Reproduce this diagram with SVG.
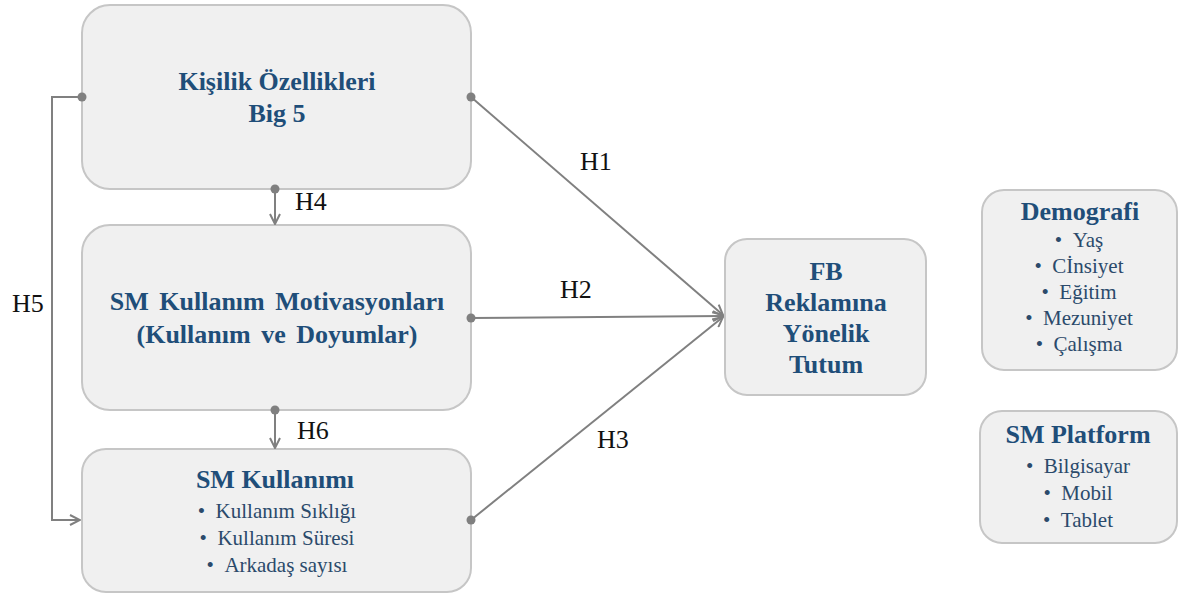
<svg xmlns="http://www.w3.org/2000/svg" width="1181" height="596" viewBox="0 0 1181 596" font-family="Liberation Serif, DejaVu Serif, serif">
<defs>
<style>
.box{fill:#f0f0f0;stroke:#c6c6c6;stroke-width:2}
.title{font-weight:bold;font-size:26px;fill:#1f4e79;text-anchor:middle}
.item{font-size:21px;fill:#2b4a6b;text-anchor:middle}
.lbl{font-size:26px;fill:#111}
.con{stroke:#808080;stroke-width:2;fill:none}
.dot{fill:#808080}
</style>
<marker id="arr" viewBox="0 0 12 12" refX="11" refY="6" markerWidth="12" markerHeight="12" markerUnits="userSpaceOnUse" orient="auto">
<path d="M1,1 L11,6 L1,11" fill="none" stroke="#808080" stroke-width="2"/>
</marker>
</defs>
<rect width="1181" height="596" fill="#ffffff"/>
<g id="node-kisilik">
<rect class="box" x="82" y="5" width="389" height="184" rx="28"/>
<text class="title" x="277" y="90">Kişilik Özellikleri</text>
<text class="title" x="277" y="122">Big 5</text>
</g>
<g id="node-motivasyon">
<rect class="box" x="82" y="225" width="389" height="185" rx="28"/>
<text class="title" x="277" y="310" word-spacing="4">SM Kullanım Motivasyonları</text>
<text class="title" x="277" y="343" word-spacing="4">(Kullanım ve Doyumlar)</text>
</g>
<g id="node-kullanim">
<rect class="box" x="82" y="449" width="389" height="143" rx="24"/>
<text class="title" x="275" y="488">SM Kullanımı</text>
<text class="item" x="277" y="518">•&#160;&#160;Kullanım Sıklığı</text>
<text class="item" x="277" y="545">•&#160;&#160;Kullanım Süresi</text>
<text class="item" x="277" y="572">•&#160;&#160;Arkadaş sayısı</text>
</g>
<g id="node-fb">
<rect class="box" x="725" y="239" width="201" height="156" rx="22"/>
<text class="title" x="826" y="280">FB</text>
<text class="title" x="826" y="311">Reklamına</text>
<text class="title" x="826" y="342">Yönelik</text>
<text class="title" x="826" y="373">Tutum</text>
</g>
<g id="node-demografi">
<rect class="box" x="982" y="190" width="195" height="180" rx="22"/>
<text class="title" x="1080" y="220" font-size="25">Demografi</text>
<text class="item" x="1079" y="247">•&#160;&#160;Yaş</text>
<text class="item" x="1079" y="273">•&#160;&#160;Cİnsiyet</text>
<text class="item" x="1079" y="299">•&#160;&#160;Eğitim</text>
<text class="item" x="1079" y="325">•&#160;&#160;Mezuniyet</text>
<text class="item" x="1079" y="351">•&#160;&#160;Çalışma</text>
</g>
<g id="node-platform">
<rect class="box" x="980" y="411" width="197" height="132" rx="22"/>
<text class="title" x="1078" y="443" font-size="25">SM Platform</text>
<text class="item" x="1078" y="473">•&#160;&#160;Bilgisayar</text>
<text class="item" x="1078" y="500">•&#160;&#160;Mobil</text>
<text class="item" x="1078" y="527">•&#160;&#160;Tablet</text>
</g>
<g id="connectors">
<path class="con" d="M471,97 L723,315" marker-end="url(#arr)"/>
<path class="con" d="M471,318 L723,316" marker-end="url(#arr)"/>
<path class="con" d="M471,520 L723,317" marker-end="url(#arr)"/>
<path class="con" d="M275,189 L275,224" marker-end="url(#arr)"/>
<path class="con" d="M275,410 L275,448" marker-end="url(#arr)"/>
<path class="con" d="M82,97 L52,97 L52,520 L80,520" marker-end="url(#arr)"/>
<circle class="dot" cx="471" cy="97" r="4.5"/>
<circle class="dot" cx="471" cy="318" r="4.5"/>
<circle class="dot" cx="471" cy="520" r="4.5"/>
<circle class="dot" cx="275" cy="189" r="4.5"/>
<circle class="dot" cx="275" cy="410" r="4.5"/>
<circle class="dot" cx="82" cy="97" r="4.5"/>
<text class="lbl" x="580" y="170">H1</text>
<text class="lbl" x="560" y="298">H2</text>
<text class="lbl" x="597" y="448">H3</text>
<text class="lbl" x="295" y="210">H4</text>
<text class="lbl" x="12" y="312">H5</text>
<text class="lbl" x="297" y="439">H6</text>
</g>
</svg>
